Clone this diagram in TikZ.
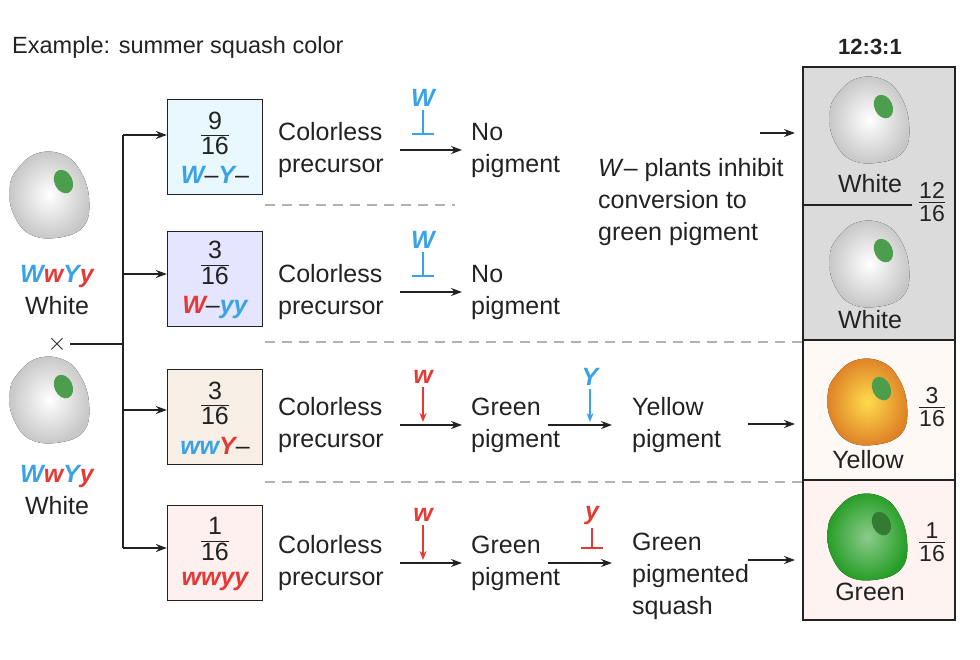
\documentclass[tikz,border=0pt]{standalone}
\usepackage{fontspec}
\setmainfont{Liberation Sans}
\usetikzlibrary{arrows.meta}
\definecolor{gb}{HTML}{3AA3E8}
\definecolor{gr}{HTML}{E53935}
\definecolor{txt}{HTML}{222222}
\newcommand{\fr}[2]{\renewcommand{\arraystretch}{0.85}\begin{tabular}{@{}c@{}}#1\\[-2pt]\hline\rule{0pt}{19pt}#2\end{tabular}}
\newcommand{\B}[1]{\textcolor{gb}{\bfseries\itshape #1}}
\newcommand{\R}[1]{\textcolor{gr}{\bfseries\itshape #1}}
\newcommand{\sq}[5]{% x y inner outer spot
\begin{scope}[shift={(#1,#2)},scale=1.12]
\fill[inner color=#3, outer color=#4, shading=radial] plot[smooth cycle, tension=0.7] coordinates{(-30,-22)(-12,-37)(12,-36)(28,-20)(35,5)(30,28)(8,38)(-18,35)(-33,16)(-36,-6)};
\fill[#5, rotate around={25:(12,-12)}] (12,-12) ellipse (8 and 11);
\end{scope}}
\begin{document}
\begin{tikzpicture}[x=1pt,y=-1pt,font=\fontsize{25}{32}\selectfont,text=txt,
 ar/.style={-{Stealth[length=11pt,width=8pt]},line width=1.6pt,draw=txt},
 inh/.style={-{Bar[width=22pt]},line width=1.6pt},
 dwn/.style={-{Stealth[length=9pt,width=7pt]},line width=1.6pt},
 gbox/.style={draw=txt,line width=1.3pt,minimum width=95pt,minimum height=95pt,align=center,inner sep=0pt},
 dsh/.style={draw=gray!60,line width=1.5pt,dash pattern=on 10pt off 7pt},
 lab/.style={anchor=west,align=left,inner sep=0pt}]
\useasboundingbox (0,0) rectangle (980,660);
\node[anchor=west,inner sep=0pt,font=\fontsize{23.5}{26}\selectfont] (title) at (12,47) {Example: summer squash color};
\node[inner sep=0pt,font=\fontsize{22}{26}\selectfont\bfseries] (ratio) at (870,47) {12:3:1};
% right column
\fill[black!14] (803,67) rectangle (955,340);
\fill[black!8!orange!4] (803,340) rectangle (955,480);
\fill[orange!13!red!5!white] (803,480) rectangle (955,620);
\draw[txt,line width=1.3pt] (803,67) rectangle (955,620) (803,340) -- (955,340) (803,480) -- (955,480);
\draw[txt,line width=1.3pt] (803,205) -- (912,205);
\sq{870}{120}{white}{black!22}{green!45!black!70}
\sq{870}{264}{white}{black!22}{green!45!black!70}
\sq{868}{402}{yellow!60!orange!70}{orange!85!black!85}{green!45!black!70}
\sq{868}{537}{green!55!black!45}{green!55!black!85}{green!35!black!80}
\node (rw1) at (870,184) {White};
\node (rw2) at (870,320) {White};
\node (ry) at (868,460) {Yellow};
\node (rg) at (870,592) {Green};
\node[font=\fontsize{23}{24}\selectfont] (f12) at (932,205) {\fr{12}{16}};
\node[font=\fontsize{23}{24}\selectfont] (f3) at (932,410) {\fr{3}{16}};
\node[font=\fontsize{23}{24}\selectfont] (f1) at (932,545) {\fr{1}{16}};
% left parents
\sq{50}{195}{white}{black!22}{green!45!black!70}
\sq{50}{400}{white}{black!22}{green!45!black!70}
\node[align=center] (p1) at (57,290) {\B{W}\R{w}\B{Y}\R{y}\\White};
\node[align=center] (p2) at (57,490) {\B{W}\R{w}\B{Y}\R{y}\\White};
\node (x) at (57,344) {$\times$};
\coordinate (j) at (123,344);
\coordinate (t) at (123,135);
\coordinate (b) at (123,548);
\draw[txt,line width=1.6pt] (x.east) -- (j) (t) -- (b);
% genotype boxes
\node[gbox,fill=cyan!9] (g1) at (215,147) {\fr{9}{16}\\[3pt]\B{W}–\B{Y}–};
\node[gbox,fill=blue!10] (g2) at (215,279) {\fr{3}{16}\\[3pt]\R{W}–\B{yy}};
\node[gbox,fill=brown!13] (g3) at (215,417) {\fr{3}{16}\\[3pt]\B{ww}\R{Y}–};
\node[gbox,fill=orange!10!red!6!white] (g4) at (215,553) {\fr{1}{16}\\[3pt]\R{wwyy}};
\foreach \n/\y in {g1/135,g2/274,g3/410,g4/548} \draw[ar] (123,\y) -- (\n.west|-0,\y);
% dashed separators
\draw[dsh] (265,205) -- (455,205);
\draw[dsh] (265,342) -- (803,342);
\draw[dsh] (265,482) -- (803,482);
% rows
\foreach \r/\y in {1/150,2/292,3/425,4/563}{
 \node[lab] (c\r) at (278,\y) {Colorless\\precursor};
 \draw[ar] (400,\y) -- (462,\y);}
\foreach \r/\y in {1/150,2/292}{
 \node[lab] (n\r) at (471,\y) {No\\pigment};
 \node (w\r) at (423,\y-52) {\B{W}};
 \draw[inh,gb] (w\r.south) -- (423,\y-15);}
\foreach \r/\y in {3/425,4/563}{
 \node (wl\r) at (423,\y-48) {\R{w}};
 \draw[dwn,gr] (wl\r.south) -- (423,\y-3);
 \node[lab] (gp\r) at (471,\y) {Green\\pigment};
 \draw[ar] (548,\y) -- (612,\y);}
\node (Y) at (590,377) {\B{Y}};
\draw[dwn,gb] (Y.south) -- (590,422);
\node (y) at (592,515) {\R{y}};
\draw[inh,gr] (y.south) -- (592,549);
\node[lab] (yp) at (632,425) {Yellow\\pigment};
\node[lab,anchor=north west] (gps) at (632,533) {Green\\pigmented\\squash};
\node[lab] (wnote) at (598,202) {\textit{W}– plants inhibit\\conversion to\\green pigment};
\draw[ar] (760,133) -- (795,133);
\draw[ar] (748,424) -- (795,424);
\draw[ar] (748,560) -- (795,560);
\end{tikzpicture}
\end{document}
